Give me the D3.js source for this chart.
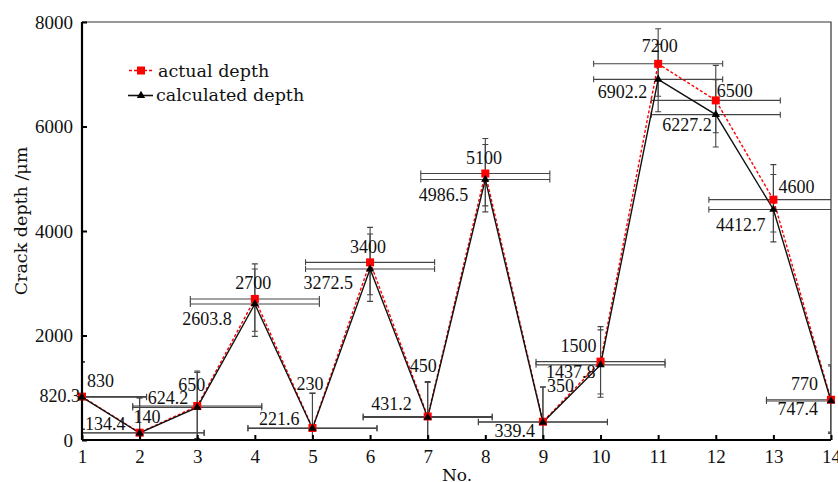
<!DOCTYPE html>
<html>
<head>
<meta charset="utf-8">
<script src="https://cdn.jsdelivr.net/npm/d3@7"></script>
<style>
  html, body { margin: 0; padding: 0; background: #fff; }
  svg { display: block; }
</style>
</head>
<body>
<div id="chart"></div>
<script>
// Specimen numbers
const sampleNo = [1, 2, 3, 4, 5, 6, 7, 8, 9, 10, 11, 12, 13, 14];
// Measured crack depth (μm)
const actualDepth = [830, 140, 650, 2700, 230, 3400, 450, 5100, 350, 1500, 7200, 6500, 4600, 770];
// Calculated crack depth (μm)
const calculatedDepth = [820.3, 134.4, 624.2, 2603.8, 221.6, 3272.5, 431.2, 4986.5, 339.4, 1437.8, 6902.2, 6227.2, 4412.7, 747.4];
// Error ranges
const xError = 1.12;
const yErrorUp = 670;
const yErrorDown = 620;
// Axis ticks
const xTicks = [1, 2, 3, 4, 5, 6, 7, 8, 9, 10, 11, 12, 13, 14];
const yTicks = [0, 2000, 4000, 6000, 8000];
const seriesNames = ["actual depth", "calculated depth"];

// Label placement (anchor, dx, dy relative to the point)
const actualLabelPos = [
  ["start", 5, -10], ["start", -6, -10], ["end", 8, -15], ["middle", -1.5, -10],
  ["middle", -2.4, -38], ["middle", -2, -9], ["end", 9, -44], ["middle", -1.4, -10],
  ["start", 4, -30], ["end", -4, -10], ["middle", 1.7, -12], ["start", 1, -3],
  ["start", 5, -6.5], ["end", -13, -10]
];
const calcLabelPos = [
  ["end", -2, 5], ["end", -14, -2.5], ["end", -9, -3], ["end", -23, 21],
  ["end", -13, -3], ["end", -17, 20], ["end", -16, -7.5], ["end", -17, 22],
  ["end", -8, 15], ["end", -5, 13], ["end", -11, 19], ["end", -4, 16],
  ["end", -8, 22], ["end", -13, 14]
];

const W = 838, H = 482;
const mLeft = 82, mRight = 831, mTop = 22, mBottom = 440;

const svg = d3.select("#chart").append("svg").attr("width", W).attr("height", H);

const x = d3.scaleLinear().domain([1, 14]).range([mLeft, mRight]);
const y = d3.scaleLinear().domain([0, 8000]).range([mBottom, mTop]);

const numFont = "'Liberation Serif', 'Times New Roman', serif";
const textFont = "'DejaVu Serif', serif";

svg.append("defs").append("clipPath").attr("id", "plot")
  .append("rect").attr("x", mLeft).attr("y", mTop)
  .attr("width", mRight - mLeft).attr("height", mBottom - mTop);

// Frame (top and right)
svg.append("path")
  .attr("d", `M${mLeft},${mTop}H${mRight}V${mBottom}`)
  .attr("fill", "none").attr("stroke", "#333").attr("stroke-width", 1.2);

// Error bars
const eb = svg.append("g").attr("clip-path", "url(#plot)")
  .attr("stroke", "#444").attr("stroke-width", 1.1).attr("fill", "none");

function errorBars(values) {
  values.forEach((v, i) => {
    const cx = x(sampleNo[i]), cy = y(v);
    const x0 = x(sampleNo[i] - xError), x1 = x(sampleNo[i] + xError);
    const yTop = y(v + yErrorUp), yBot = y(v - yErrorDown);
    eb.append("path").attr("d",
      `M${x0},${cy}H${x1}M${x0},${cy - 3}V${cy + 3}M${x1},${cy - 3}V${cy + 3}` +
      `M${cx},${yTop}V${yBot}M${cx - 3},${yTop}H${cx + 3}M${cx - 3},${yBot}H${cx + 3}`);
  });
}
errorBars(actualDepth);
errorBars(calculatedDepth);

// Lines
const line = d3.line().x((d, i) => x(sampleNo[i])).y(d => y(d));

svg.append("path").datum(actualDepth)
  .attr("d", line).attr("fill", "none")
  .attr("stroke", "#ff0000").attr("stroke-width", 1.4).attr("stroke-dasharray", "3,2");

svg.append("path").datum(calculatedDepth)
  .attr("d", line).attr("fill", "none")
  .attr("stroke", "#111").attr("stroke-width", 1.4);

// Markers
const sq = 8;
svg.append("g").selectAll("rect").data(actualDepth).join("rect")
  .attr("x", (d, i) => x(sampleNo[i]) - sq / 2)
  .attr("y", d => y(d) - sq / 2)
  .attr("width", sq).attr("height", sq)
  .attr("fill", "#ff0000");

const tri = d3.symbol().type(d3.symbolTriangle).size(30);
svg.append("g").selectAll("path").data(calculatedDepth).join("path")
  .attr("d", tri)
  .attr("transform", (d, i) => `translate(${x(sampleNo[i])},${y(d)})`)
  .attr("fill", "#000");

// Axes
const xAxis = d3.axisBottom(x).tickValues(xTicks).tickSize(-5).tickPadding(10).tickFormat(d3.format("d"));
const yAxis = d3.axisLeft(y).tickValues(yTicks).tickSize(-5).tickPadding(9).tickFormat(d3.format("d"));

const gx = svg.append("g").attr("transform", `translate(0,${mBottom})`).call(xAxis);
const gy = svg.append("g").attr("transform", `translate(${mLeft},0)`).call(yAxis);

[gx, gy].forEach(g => {
  g.select(".domain").attr("stroke", "#000").attr("stroke-width", 2.2);
  g.selectAll(".tick line").attr("stroke", "#000").attr("stroke-width", 2);
  g.selectAll(".tick text").attr("fill", "#111")
    .style("font-family", numFont).style("font-size", "19px");
});
gx.select(".domain").attr("d", `M${mLeft},0H${mRight}`);
gy.select(".domain").attr("d", `M0,${mBottom}V${mTop}`);
gx.selectAll(".tick text").attr("dy", "0.71em");

// Value labels
function labels(values, pos) {
  svg.append("g").selectAll("text").data(values).join("text")
    .attr("x", (d, i) => x(sampleNo[i]) + pos[i][1])
    .attr("y", (d, i) => y(d) + pos[i][2])
    .attr("text-anchor", (d, i) => pos[i][0])
    .style("font-family", numFont).style("font-size", "18px")
    .attr("fill", "#111")
    .text(d => String(d));
}
labels(actualDepth, actualLabelPos);
labels(calculatedDepth, calcLabelPos);

// Axis titles
svg.append("text")
  .attr("transform", `translate(27,221) rotate(-90)`)
  .attr("text-anchor", "middle")
  .style("font-family", textFont).style("font-size", "17.5px").attr("fill", "#111")
  .text("Crack depth /μm");

svg.append("text")
  .attr("x", 457).attr("y", 480.5)
  .attr("text-anchor", "middle")
  .style("font-family", textFont).style("font-size", "17px").attr("fill", "#111")
  .text("No.");

// Legend
const lg = svg.append("g");
lg.append("line").attr("x1", 129).attr("x2", 153).attr("y1", 70.5).attr("y2", 70.5)
  .attr("stroke", "#ff0000").attr("stroke-width", 1.4).attr("stroke-dasharray", "3,2");
lg.append("rect").attr("x", 141 - 4).attr("y", 70.5 - 4).attr("width", 8).attr("height", 8).attr("fill", "#ff0000");
lg.append("text").attr("x", 158).attr("y", 76.5)
  .style("font-family", textFont).style("font-size", "17.5px").attr("fill", "#111")
  .text(seriesNames[0]);

lg.append("line").attr("x1", 128).attr("x2", 153).attr("y1", 95.5).attr("y2", 95.5)
  .attr("stroke", "#111").attr("stroke-width", 1.6);
lg.append("path").attr("d", tri).attr("transform", "translate(141,95.5)").attr("fill", "#000");
lg.append("text").attr("x", 156).attr("y", 101)
  .style("font-family", textFont).style("font-size", "17.5px").attr("fill", "#111")
  .text(seriesNames[1]);
</script>
</body>
</html>
